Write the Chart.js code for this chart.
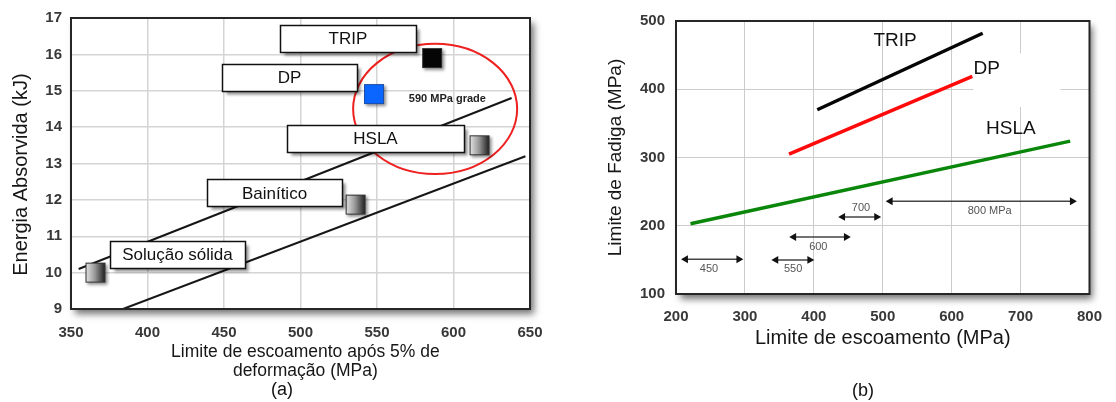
<!DOCTYPE html>
<html><head><meta charset="utf-8">
<script src="https://cdn.jsdelivr.net/npm/chart.js@4/dist/chart.umd.min.js"></script>
<style>
html,body{margin:0;padding:0;background:#fff;width:1116px;height:402px;overflow:hidden}
#ca{position:absolute;left:0;top:0}
#cb{position:absolute;left:560px;top:0}
</style></head><body>
<canvas id="ca" width="560" height="402"></canvas>
<canvas id="cb" width="556" height="402"></canvas>
<script>
// ---------- Chart (a) data ----------
const aXTicks = [350, 400, 450, 500, 550, 600, 650];
const aYTicks = [9, 10, 11, 12, 13, 14, 15, 16, 17];
const aUpperX = [355, 638];
const aUpperY = [10.1, 14.8];
const aLowerX = [384, 647];
const aLowerY = [9.0, 13.2];
const aSteels = ['Solução sólida', 'Bainítico', 'HSLA', 'DP', 'TRIP'];
const aSteelX = [366, 536, 617, 548, 586];
const aSteelY = [10.0, 11.87, 13.5, 14.91, 15.9];
const aLabelX = [419.6, 483, 549, 492.8, 531];
const aLabelY = [10.5, 12.19, 13.7, 15.36, 16.44];
const aGradeText = '590 MPa grade';
const aGradeX = 596;
const aGradeY = 14.78;
const aCircleX = 588, aCircleY = 14.5, aCircleRX = 53.6, aCircleRY = 1.79;

// ---------- Chart (b) data ----------
const bXTicks = [200, 300, 400, 500, 600, 700, 800];
const bYTicks = [100, 200, 300, 400, 500];
const bTripX = [405, 645], bTripY = [370, 482];
const bDpX = [364, 630], bDpY = [305, 419];
const bHslaX = [221, 772], bHslaY = [203, 324];
const bSeriesNames = ['TRIP', 'DP', 'HSLA'];
const bNameX = [518, 651, 686];
const bNameY = [471, 430.5, 342];
const bRangeLabels = ['450', '550', '600', '700', '800 MPa'];
const bRangeFrom = [214, 345, 371, 442, 511];
const bRangeTo = [291, 394, 447, 491, 775];
const bRangeY = [151, 150, 183.5, 213, 236];
const bRangeLabelX = [247.8, 370, 406.5, 468.4, 655.2];
const bRangeLabelY = [136.7, 136.7, 168.9, 226, 221.6];

// ---------- styles ----------
const FF = '"Liberation Sans", Arial, Helvetica, sans-serif';
const TICK_COLOR = '#383838';

function squareImg(kind) {
  const c = document.createElement('canvas'); c.width = 30; c.height = 30;
  const g = c.getContext('2d');
  g.save();
  g.shadowColor = 'rgba(0,0,0,0.45)'; g.shadowBlur = 3; g.shadowOffsetX = 2; g.shadowOffsetY = 2;
  let fill = kind;
  if (kind === 'gray') {
    fill = g.createLinearGradient(5, 0, 25, 0);
    fill.addColorStop(0, '#e6e6e6'); fill.addColorStop(0.45, '#9c9c9c'); fill.addColorStop(1, '#1a1a1a');
  }
  g.fillStyle = fill; g.fillRect(5, 5, 20, 20);
  g.restore();
  g.strokeStyle = kind === '#0a66ff' ? '#1d4fa8' : '#303030';
  g.lineWidth = 1; g.strokeRect(5.5, 5.5, 19, 19);
  return c;
}
const aSquareKinds = ['gray', 'gray', 'gray', '#0a66ff', '#050505'];
const aSquareImgs = aSquareKinds.map(squareImg);

function frameBg(chart) {
  const {ctx, chartArea: a} = chart;
  ctx.save();
  ctx.shadowColor = 'rgba(0,0,0,0.55)'; ctx.shadowBlur = 7; ctx.shadowOffsetX = 4; ctx.shadowOffsetY = 5;
  ctx.fillStyle = '#ffffff';
  ctx.fillRect(a.left, a.top, a.right - a.left, a.bottom - a.top);
  ctx.restore();
}
function frameBorder(chart) {
  const {ctx, chartArea: a} = chart;
  ctx.save();
  ctx.strokeStyle = '#262626'; ctx.lineWidth = 2;
  ctx.strokeRect(a.left, a.top, a.right - a.left, a.bottom - a.top);
  ctx.restore();
}

function linearScale(min, max, tickArr, step, tickPad, titleText, titleFont, titlePad, fitFn, grid) {
  return {
    type: 'linear', min: min, max: max,
    afterBuildTicks: s => { s.ticks = tickArr.map(v => ({value: v})); },
    ticks: {stepSize: step, padding: tickPad, color: TICK_COLOR, font: {family: FF, size: 15, weight: 'bold'}},
    grid: Object.assign({drawTicks: false}, grid),
    border: {display: false},
    title: {display: true, text: titleText, color: '#161616', font: Object.assign({family: FF}, titleFont), padding: titlePad},
    afterFit: fitFn
  };
}

// ---------- Chart (a) ----------
const decorA = {
  id: 'decorA',
  beforeDraw: frameBg,
  beforeDatasetsDraw(chart) {
    const {ctx, scales: {x, y}} = chart;
    const cx = x.getPixelForValue(aCircleX), cy = y.getPixelForValue(aCircleY);
    const rx = Math.abs(x.getPixelForValue(aCircleX + aCircleRX) - cx);
    const ry = Math.abs(y.getPixelForValue(aCircleY + aCircleRY) - cy);
    ctx.save();
    ctx.strokeStyle = '#ee2020'; ctx.lineWidth = 2;
    ctx.beginPath(); ctx.ellipse(cx, cy, rx, ry, 0, 0, Math.PI * 2); ctx.stroke();
    ctx.restore();
  },
  afterDatasetsDraw(chart) {
    const {ctx, scales: {x, y}} = chart;
    const widths = [135, 135, 177, 135, 136];
    const h = 27;
    ctx.save();
    aSteels.forEach((name, i) => {
      const cx = x.getPixelForValue(aLabelX[i]), cy = y.getPixelForValue(aLabelY[i]);
      const l = Math.round(cx - widths[i] / 2) + 0.5, t = Math.round(cy - h / 2) + 0.5;
      ctx.save();
      ctx.shadowColor = 'rgba(0,0,0,0.45)'; ctx.shadowBlur = 3; ctx.shadowOffsetX = 3; ctx.shadowOffsetY = 3;
      ctx.fillStyle = '#fff'; ctx.fillRect(l, t, widths[i], h);
      ctx.restore();
      ctx.strokeStyle = '#111'; ctx.lineWidth = 1.5; ctx.strokeRect(l, t, widths[i], h);
      ctx.fillStyle = '#111'; ctx.font = '17px ' + FF;
      ctx.textAlign = 'center'; ctx.textBaseline = 'middle';
      ctx.fillText(name, cx, cy + 1);
    });
    ctx.fillStyle = '#222'; ctx.font = 'bold 11px ' + FF;
    ctx.textAlign = 'center'; ctx.textBaseline = 'middle';
    ctx.fillText(aGradeText, x.getPixelForValue(aGradeX), y.getPixelForValue(aGradeY));
    ctx.restore();
    frameBorder(chart);
  },
  afterDraw(chart) {
    const {ctx} = chart;
    ctx.save();
    ctx.fillStyle = '#111'; ctx.font = '18px ' + FF; ctx.textAlign = 'center'; ctx.textBaseline = 'middle';
    ctx.fillText('(a)', 282, 390);
    ctx.restore();
  }
};

new Chart(document.getElementById('ca'), {
  type: 'scatter',
  data: {
    datasets: [
      {label: 'Aços', data: aSteelX.map((v, i) => ({x: v, y: aSteelY[i]})),
       pointStyle: aSquareImgs, pointRadius: 10, showLine: false},
      {label: 'upper', data: aUpperX.map((v, i) => ({x: v, y: aUpperY[i]})),
       showLine: true, borderColor: '#161616', borderWidth: 2, pointRadius: 0},
      {label: 'lower', data: aLowerX.map((v, i) => ({x: v, y: aLowerY[i]})),
       showLine: true, borderColor: '#161616', borderWidth: 2, pointRadius: 0}
    ]
  },
  options: {
    responsive: false, animation: false, devicePixelRatio: 1,
    layout: {padding: {left: 0, top: 14, right: 30, bottom: 0}},
    plugins: {legend: {display: false}, tooltip: {enabled: false}},
    scales: {
      x: linearScale(350, 650, aXTicks, 50, 15, ['  Limite de escoamento após 5% de', '  deformação (MPa)'],
        {size: 17.5, lineHeight: 1.086}, {top: 0, bottom: 21.5}, s => { s.height = 93; }, {color: '#d4d4d4', lineWidth: 1.5}),
      y: linearScale(9, 17, aYTicks, 1, 9, 'Energia Absorvida (kJ)    ',
        {size: 20, lineHeight: 1.15}, {top: 9.5, bottom: 0}, s => { s.width = 71; }, {color: '#d4d4d4', lineWidth: 1.5})
    }
  },
  plugins: [decorA]
});

// ---------- Chart (b) ----------
const decorB = {
  id: 'decorB',
  beforeDraw: frameBg,
  afterDatasetsDraw(chart) {
    const {ctx, scales: {x, y}} = chart;
    ctx.save();
    // white patch behind the DP label (as in the source figure)
    const px1 = x.getPixelForValue(631.4), px2 = x.getPixelForValue(757.9);
    const py1 = y.getPixelForValue(453), py2 = y.getPixelForValue(374);
    ctx.fillStyle = '#fff'; ctx.fillRect(px1, py1, px2 - px1, py2 - py1);
    ctx.fillStyle = '#111'; ctx.font = '19px ' + FF; ctx.textAlign = 'center'; ctx.textBaseline = 'middle';
    bSeriesNames.forEach((n, i) => ctx.fillText(n, x.getPixelForValue(bNameX[i]), y.getPixelForValue(bNameY[i])));
    ctx.fillStyle = '#555'; ctx.font = '11px ' + FF;
    bRangeLabels.forEach((n, i) => ctx.fillText(n, x.getPixelForValue(bRangeLabelX[i]), y.getPixelForValue(bRangeLabelY[i])));
    ctx.restore();
    frameBorder(chart);
  },
  afterDraw(chart) {
    const {ctx} = chart;
    ctx.save();
    ctx.fillStyle = '#111'; ctx.font = '18px ' + FF; ctx.textAlign = 'center'; ctx.textBaseline = 'middle';
    ctx.fillText('(b)', 303, 391);
    ctx.restore();
  }
};

const bLine = (label, xs, ys, color) => ({
  label: label, data: xs.map((v, i) => ({x: v, y: ys[i]})), showLine: true,
  borderColor: color, borderWidth: 3.5, pointRadius: 0, borderCapStyle: 'butt'
});
const bArrows = bRangeLabels.map((lab, i) => ({
  label: lab, data: [{x: bRangeFrom[i], y: bRangeY[i]}, {x: bRangeTo[i], y: bRangeY[i]}],
  showLine: true, borderColor: '#444', borderWidth: 1.5,
  pointStyle: 'triangle', pointRotation: [-90, 90], pointRadius: 4.6,
  pointBackgroundColor: '#111', pointBorderColor: '#111', pointBorderWidth: 0
}));

new Chart(document.getElementById('cb'), {
  type: 'scatter',
  data: {
    datasets: [
      bLine('TRIP', bTripX, bTripY, '#050505'),
      bLine('DP', bDpX, bDpY, '#ff0a0a'),
      bLine('HSLA', bHslaX, bHslaY, '#0a870a')
    ].concat(bArrows)
  },
  options: {
    responsive: false, animation: false, devicePixelRatio: 1,
    layout: {padding: {left: 0, top: 21, right: 13, bottom: 0}},
    plugins: {legend: {display: false}, tooltip: {enabled: false}},
    scales: {
      x: linearScale(200, 800, bXTicks, 100, 14, 'Limite de escoamento (MPa)',
        {size: 20, lineHeight: 1.15}, {top: 0, bottom: 52.5}, s => { s.height = 108; }, {color: '#cccccc', lineWidth: 1}),
      y: linearScale(100, 500, bYTicks, 100, 11, 'Limite de Fadiga (MPa)',
        {size: 19, lineHeight: 1.15}, {top: 45, bottom: 0}, s => { s.width = 116; }, {color: '#cccccc', lineWidth: 1})
    }
  },
  plugins: [decorB]
});
</script>
</body></html>
